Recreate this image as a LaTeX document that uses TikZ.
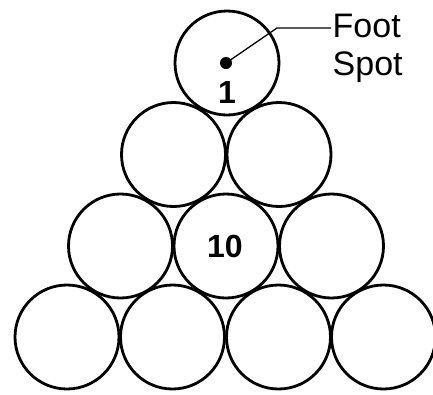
\documentclass[tikz,border=0pt]{standalone}
\usepackage{fontspec}
\setmainfont{Liberation Sans}
\begin{document}
\begin{tikzpicture}[x=1pt,y=-1pt,
  ball/.style={circle,draw,line width=2.8pt,minimum size=104pt,inner sep=0pt},
  num/.style={font=\fontsize{32}{32}\selectfont\bfseries,inner sep=0pt},
  lab/.style={font=\fontsize{34}{34}\selectfont,inner sep=1.5pt,anchor=base west}]
\useasboundingbox (0,0) rectangle (433,394);
% row 1
\node[ball] (b1) at (227,63) {};
% row 2
\node[ball] (b2) at (173.5,154.5) {};
\node[ball] (b3) at (279,154.5) {};
% row 3
\node[ball] (b4) at (120.5,246) {};
\node[ball] (b5) at (226,246) {};
\node[ball] (b6) at (331.5,246) {};
% row 4
\node[ball] (b7) at (67,337) {};
\node[ball] (b8) at (172.5,337) {};
\node[ball] (b9) at (278.5,337) {};
\node[ball] (b10) at (383.5,337) {};
% numbers
\node[num,anchor=base] (n1) at (227,103) {1};
\node[num] (n10) at (225,246) {10};
% foot spot
\node[circle,fill,minimum size=12pt,inner sep=0pt] (dot) at (226,63) {};
\node[lab] (foot) at (331,37) {Foot};
\node[lab] (spot) at (331,75) {Spot};
\coordinate (bend) at (277,28);
\draw[line width=1.3pt] (dot.center) -- (bend) -- (bend -| foot.west);
\end{tikzpicture}
\end{document}
